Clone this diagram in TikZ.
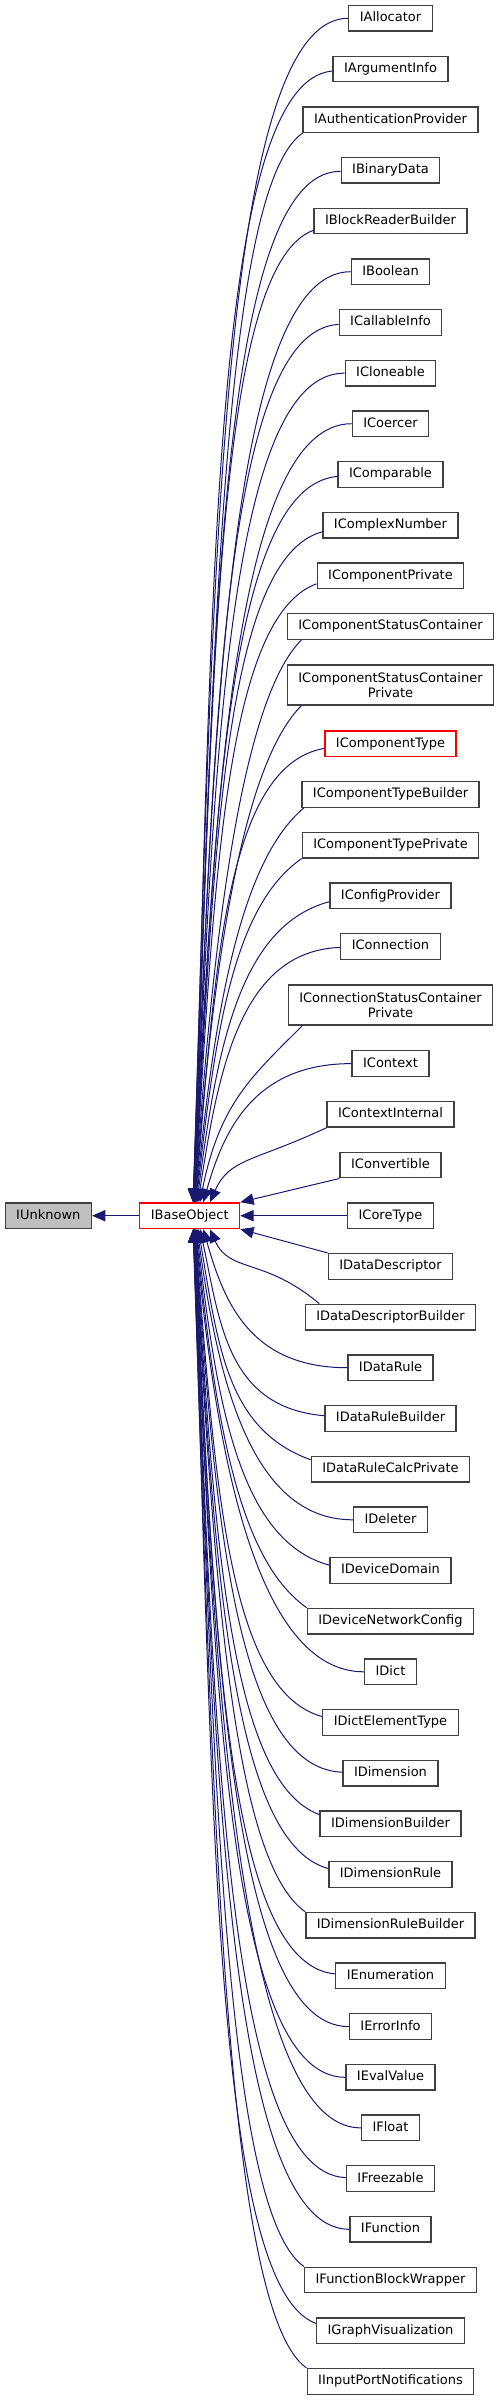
\documentclass[tikz,border=0pt]{standalone}
\usepackage{fontspec}
\setmainfont{DejaVu Sans}
\usetikzlibrary{arrows.meta,calc}
\definecolor{mblue}{HTML}{191970}
\definecolor{bgray}{HTML}{404040}
\definecolor{ugray}{HTML}{BFBFBF}
\tikzset{
  basebox/.style={draw=bgray, line width=1pt, fill=white,
    font=\fontsize{9.75}{11.25}\selectfont, inner xsep=8.25pt, inner ysep=2pt, align=center},
  box/.style={basebox, minimum height=19.2pt, text height=7.3pt, text depth=2.1pt},
  tallbox/.style={basebox, minimum height=30pt},
  redbox/.style={box, draw=red},
  edge/.style={draw=mblue, line width=0.75pt, {Triangle[length=10pt,width=8.5pt]}-},
}
% upper edge: #1 attach point, #2 approach angle, #3 row centre y (px)
\newcommand\UE[3]{%
  \pgfmathsetmacro\edgD{1215.7-#3-13}%
  \pgfmathsetmacro\edgT{0.75*(2+1600/\edgD)}%
  \pgfmathsetmacro\edgX{\edgT+15}%
  \pgfmathsetmacro\edgY{0.75*0.5*\edgD}%
  \pgfmathsetmacro\edgK{(95+0.03*\edgD)*(1-0.4*abs(sin(#2)))}%
  \draw[edge] ([xshift=\edgT pt]base.north) .. controls ([xshift=\edgX pt,yshift=\edgY pt]base.north) and ($(#1)+(#2:\edgK)$) .. (#1);
}
% lower edge
\newcommand\LE[3]{%
  \pgfmathsetmacro\edgD{#3-1215.7-13}%
  \pgfmathsetmacro\edgT{0.75*(2+1600/\edgD)}%
  \pgfmathsetmacro\edgX{\edgT+15}%
  \pgfmathsetmacro\edgY{-0.75*0.5*\edgD}%
  \pgfmathsetmacro\edgK{(95+0.03*\edgD)*(1-0.4*abs(sin(#2)))}%
  \draw[edge] ([xshift=\edgT pt]base.south) .. controls ([xshift=\edgX pt,yshift=\edgY pt]base.south) and ($(#1)+(#2:\edgK)$) .. (#1);
}
\begin{document}
\begin{tikzpicture}[x=0.75pt,y=0.75pt]
\useasboundingbox (0,0) rectangle (499,-2400);
\node[box, fill=ugray] (unk) at (48.3,-1215.7) {IUnknown};
\node[redbox] (base) at (189.7,-1215.7) {IBaseObject};
\node[box] (c1) at (390.5,-18.3) {IAllocator};
\node[box] (c2) at (390.5,-69.0) {IArgumentInfo};
\node[box] (c3) at (390.5,-119.7) {IAuthenticationProvider};
\node[box] (c4) at (390.5,-170.3) {IBinaryData};
\node[box] (c5) at (390.5,-221.0) {IBlockReaderBuilder};
\node[box] (c6) at (390.5,-271.7) {IBoolean};
\node[box] (c7) at (390.5,-322.4) {ICallableInfo};
\node[box] (c8) at (390.5,-373.1) {ICloneable};
\node[box] (c9) at (390.5,-423.7) {ICoercer};
\node[box] (c10) at (390.5,-474.4) {IComparable};
\node[box] (c11) at (390.5,-525.1) {IComplexNumber};
\node[box] (c12) at (390.5,-575.8) {IComponentPrivate};
\node[box] (c13) at (390.5,-626.5) {IComponentStatusContainer};
\node[tallbox] (c14) at (390.5,-685.0) {IComponentStatusContainer\\Private};
\node[redbox] (c15) at (390.5,-743.7) {IComponentType};
\node[box] (c16) at (390.5,-794.4) {IComponentTypeBuilder};
\node[box] (c17) at (390.5,-845.1) {IComponentTypePrivate};
\node[box] (c18) at (390.5,-895.7) {IConfigProvider};
\node[box] (c19) at (390.5,-946.4) {IConnection};
\node[tallbox] (c20) at (390.5,-1005.0) {IConnectionStatusContainer\\Private};
\node[box] (c21) at (390.5,-1063.6) {IContext};
\node[box] (c22) at (390.5,-1114.3) {IContextInternal};
\node[box] (c23) at (390.5,-1165.0) {IConvertible};
\node[box] (c24) at (390.5,-1215.7) {ICoreType};
\node[box] (c25) at (390.5,-1266.4) {IDataDescriptor};
\node[box] (c26) at (390.5,-1317.1) {IDataDescriptorBuilder};
\node[box] (c27) at (390.5,-1367.7) {IDataRule};
\node[box] (c28) at (390.5,-1418.4) {IDataRuleBuilder};
\node[box] (c29) at (390.5,-1469.1) {IDataRuleCalcPrivate};
\node[box] (c30) at (390.5,-1519.8) {IDeleter};
\node[box] (c31) at (390.5,-1570.5) {IDeviceDomain};
\node[box] (c32) at (390.5,-1621.1) {IDeviceNetworkConfig};
\node[box] (c33) at (390.5,-1671.8) {IDict};
\node[box] (c34) at (390.5,-1722.5) {IDictElementType};
\node[box] (c35) at (390.5,-1773.2) {IDimension};
\node[box] (c36) at (390.5,-1823.9) {IDimensionBuilder};
\node[box] (c37) at (390.5,-1874.5) {IDimensionRule};
\node[box] (c38) at (390.5,-1925.2) {IDimensionRuleBuilder};
\node[box] (c39) at (390.5,-1975.9) {IEnumeration};
\node[box] (c40) at (390.5,-2026.6) {IErrorInfo};
\node[box] (c41) at (390.5,-2077.3) {IEvalValue};
\node[box] (c42) at (390.5,-2127.9) {IFloat};
\node[box] (c43) at (390.5,-2178.6) {IFreezable};
\node[box] (c44) at (390.5,-2229.3) {IFunction};
\node[box] (c45) at (390.5,-2280.0) {IFunctionBlockWrapper};
\node[box] (c46) at (390.5,-2330.7) {IGraphVisualization};
\node[box] (c47) at (390.5,-2381.4) {IInputPortNotifications};
% straight edges
\draw[edge] (unk) -- (base);
\draw[edge] (base) -- (c24);
\draw[edge] (base.north east) -- (c23.south west);
\draw[edge] (base.south east) -- (c25.north west);
% upper curved edges
\UE{c1.west}{180}{18.3}
\UE{[yshift=-1.5pt]c2.west}{185}{69.0}
\UE{c3.south west}{215}{119.7}
\UE{[yshift=-0.75pt]c4.west}{180}{170.3}
\UE{[yshift=-7pt]c5.west}{200}{221.0}
\UE{c6.west}{180}{271.7}
\UE{[yshift=-1.5pt]c7.west}{183}{322.4}
\UE{c8.west}{180}{373.1}
\UE{c9.west}{180}{423.7}
\UE{[yshift=-1.5pt]c10.west}{185}{474.4}
\UE{[yshift=-5pt]c11.west}{195}{525.1}
\UE{[yshift=-6pt]c12.west}{200}{575.8}
\UE{[xshift=11pt]c13.south west}{225}{626.5}
\UE{[xshift=11pt]c14.south west}{225}{685.0}
\UE{[yshift=-3.5pt]c15.west}{190}{743.7}
\UE{[xshift=2pt]c16.south west}{220}{794.4}
\UE{c17.south west}{215}{845.1}
\UE{[yshift=-4.5pt]c18.west}{195}{895.7}
\UE{[yshift=-0.75pt]c19.west}{182}{946.4}
\UE{[xshift=11pt]c20.south west}{225}{1005.0}
\UE{c21.west}{180}{1063.6}
\UE{c22.south west}{205}{1114.3}
% lower curved edges
\LE{[xshift=11pt]c26.north west}{140}{1317.1}
\LE{c27.west}{180}{1367.7}
\LE{[yshift=2pt]c28.west}{175}{1418.4}
\LE{[yshift=7pt]c29.west}{160}{1469.1}
\LE{c30.west}{180}{1519.8}
\LE{[yshift=4pt]c31.west}{165}{1570.5}
\LE{c32.north west}{145}{1621.1}
\LE{c33.west}{180}{1671.8}
\LE{[yshift=4.5pt]c34.west}{165}{1722.5}
\LE{[yshift=0.75pt]c35.west}{178}{1773.2}
\LE{[yshift=7pt]c36.west}{160}{1823.9}
\LE{[yshift=4.5pt]c37.west}{165}{1874.5}
\LE{c38.north west}{145}{1925.2}
\LE{[yshift=1.5pt]c39.west}{175}{1975.9}
\LE{c40.west}{180}{2026.6}
\LE{c41.west}{180}{2077.3}
\LE{c42.west}{180}{2127.9}
\LE{[yshift=0.75pt]c43.west}{178}{2178.6}
\LE{c44.west}{180}{2229.3}
\LE{c45.north west}{145}{2280.0}
\LE{[yshift=5.5pt]c46.west}{160}{2330.7}
\LE{c47.north west}{145}{2381.4}
\end{tikzpicture}
\end{document}
